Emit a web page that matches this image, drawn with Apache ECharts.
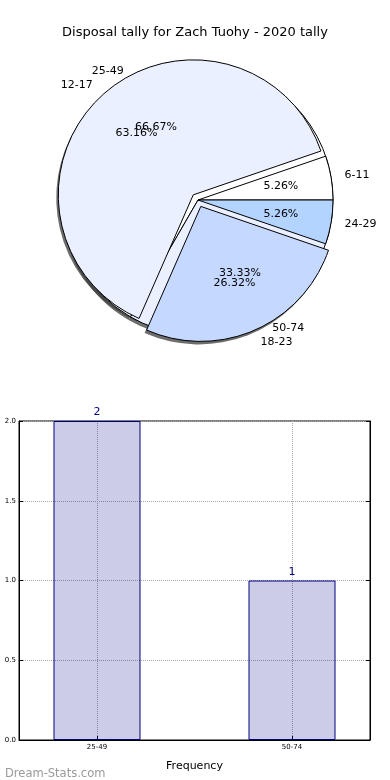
<!DOCTYPE html>
<html>
<head>
<meta charset="utf-8">
<script src="https://cdn.jsdelivr.net/npm/echarts@6/dist/echarts.min.js"></script>
<style>
html,body{margin:0;padding:0;background:#fff;}
#chart{width:390px;height:780px;}
</style>
</head>
<body>
<div id="chart"></div>
<script>
// ---- data ----
const titleText = 'Disposal tally for Zach Tuohy - 2020 tally';
const pieACategories = ['6-11', '12-17', '18-23', '24-29'];
const pieAValues = [1, 12, 5, 1];
const pieAExploded = [false, true, true, false];
const pieBCategories = ['25-49', '50-74'];
const pieBValues = [2, 1];
const pieBExploded = [false, false];
const barCategories = ['25-49', '50-74'];
const barValues = [2, 1];
const barPositions = [0, 1];

// ---- styling ----
const colorsA = ['#ffffff', '#eaf0ff', '#c5d8ff', '#b3d4ff'];
const colorsB = ['#ffffff', '#eaf0ff'];
const FONT = 'DejaVu Sans';
const CX = 198, CY = 200, R = 135;
const OFFSET = 7;

function pieItems(cats, vals, cols, expl) {
  return cats.map((c, i) => ({ name: c, value: vals[i], selected: expl[i], itemStyle: { color: cols[i] } }));
}
const nameLabel = {
  show: true, position: 'outside', formatter: '{b}',
  fontFamily: FONT, fontSize: 11, color: '#000', distanceToLabelLine: 0
};
const nameLabelLine = { show: false, length: R * 0.1, length2: 0 };
const pctLabel = {
  show: true, position: 'inside', formatter: '{d}%',
  fontFamily: FONT, fontSize: 11, color: '#000'
};
function commonPie(center, radius, z) {
  return {
    type: 'pie', z: z, center: center, radius: [0, radius],
    startAngle: 0, clockwise: false, avoidLabelOverlap: false,
    labelLayout: { hideOverlap: false },
    selectedMode: 'multiple', selectedOffset: OFFSET,
    minAngle: 0, silent: true, animation: false, percentPrecision: 2
  };
}
function shadowPie(cats, vals, expl) {
  const itemStyle = { color: 'rgba(60,60,60,0.75)', borderWidth: 0 };
  return Object.assign(commonPie([CX - 2, CY + 3], R, 1), {
    itemStyle: itemStyle, select: { itemStyle: itemStyle },
    label: { show: false }, labelLine: { show: false },
    data: cats.map((c, i) => ({ name: c, value: vals[i], selected: expl[i] }))
  });
}
function visiblePie(cats, vals, cols, expl, z) {
  const itemStyle = { borderColor: '#000', borderWidth: 1 };
  return Object.assign(commonPie([CX, CY], R, z), {
    itemStyle: itemStyle, select: { itemStyle: itemStyle },
    label: nameLabel, labelLine: nameLabelLine,
    data: pieItems(cats, vals, cols, expl)
  });
}
function pctPie(cats, vals, expl) {
  const itemStyle = { color: 'rgba(255,255,255,0)', borderWidth: 0 };
  return Object.assign(commonPie([CX, CY], R * 1.2, 6), {
    itemStyle: itemStyle, select: { itemStyle: itemStyle },
    label: pctLabel, labelLine: { show: false },
    data: cats.map((c, i) => ({ name: c, value: vals[i], selected: expl[i] }))
  });
}

const chart = echarts.init(document.getElementById('chart'), null, { renderer: 'canvas' });
chart.setOption({
  animation: false,
  backgroundColor: '#fff',
  title: [
    { text: titleText, left: 'center', top: 21,
      textStyle: { fontFamily: FONT, fontSize: 13, fontWeight: 'normal', color: '#000' } },
    { text: 'Dream-Stats.com', left: 0, top: 763,
      textStyle: { fontFamily: FONT, fontSize: 11.5, fontWeight: 'normal', color: '#9a9a9a' } }
  ],
  grid: { left: 19, right: 20, top: 421, bottom: 40, show: true, borderColor: '#000', borderWidth: 1, backgroundColor: 'transparent' },
  xAxis: {
    type: 'value', min: -0.4, max: 1.4,
    name: 'Frequency', nameLocation: 'middle', nameGap: 21,
    nameTextStyle: { fontFamily: FONT, fontSize: 11, color: '#000' },
    axisLine: { show: true, onZero: false, lineStyle: { color: '#000' } },
    axisTick: { show: true, inside: true, length: 4, customValues: barPositions, lineStyle: { color: '#000' } },
    axisLabel: { show: true, customValues: barPositions, fontFamily: FONT, fontSize: 7, color: '#000', margin: 4,
      formatter: v => barCategories[barPositions.indexOf(Math.round(v))] || '' },
    splitLine: { show: true, lineStyle: { type: 'dotted', color: '#a8a8a8', width: 1 } }
  },
  yAxis: [{
    type: 'value', min: 0, max: 2, interval: 0.5,
    axisLine: { show: true, onZero: false, lineStyle: { color: '#000' } },
    axisTick: { show: true, inside: true, length: 4, lineStyle: { color: '#000' } },
    axisLabel: { fontFamily: FONT, fontSize: 7, color: '#000', margin: 3, formatter: v => v.toFixed(1) },
    splitLine: { show: true, lineStyle: { type: 'dotted', color: '#a8a8a8', width: 1 } }
  }, {
    type: 'value', min: 0, max: 2, interval: 0.5, position: 'right',
    axisLine: { show: true, onZero: false, lineStyle: { color: '#000' } },
    axisTick: { show: true, inside: true, length: 4, lineStyle: { color: '#000' } },
    axisLabel: { show: false }, splitLine: { show: false }
  }],
  series: [
    shadowPie(pieACategories, pieAValues, pieAExploded),
    shadowPie(pieBCategories, pieBValues, pieBExploded),
    visiblePie(pieBCategories, pieBValues, colorsB, pieBExploded, 2),
    visiblePie(pieACategories, pieAValues, colorsA, pieAExploded, 4),
    pctPie(pieACategories, pieAValues, pieAExploded),
    pctPie(pieBCategories, pieBValues, pieBExploded),
    {
      type: 'bar', xAxisIndex: 0, yAxisIndex: 0, barWidth: 87,
      data: barPositions.map((p, i) => [p, barValues[i]]),
      itemStyle: { color: 'rgba(0,0,128,0.2)', borderColor: '#000080', borderWidth: 1 },
      label: { show: true, position: 'top', distance: 3, fontFamily: FONT, fontSize: 11, color: '#000080',
        formatter: p => String(p.value[1]) },
      labelLayout: { hideOverlap: false },
      silent: true
    }
  ]
});
</script>
</body>
</html>
